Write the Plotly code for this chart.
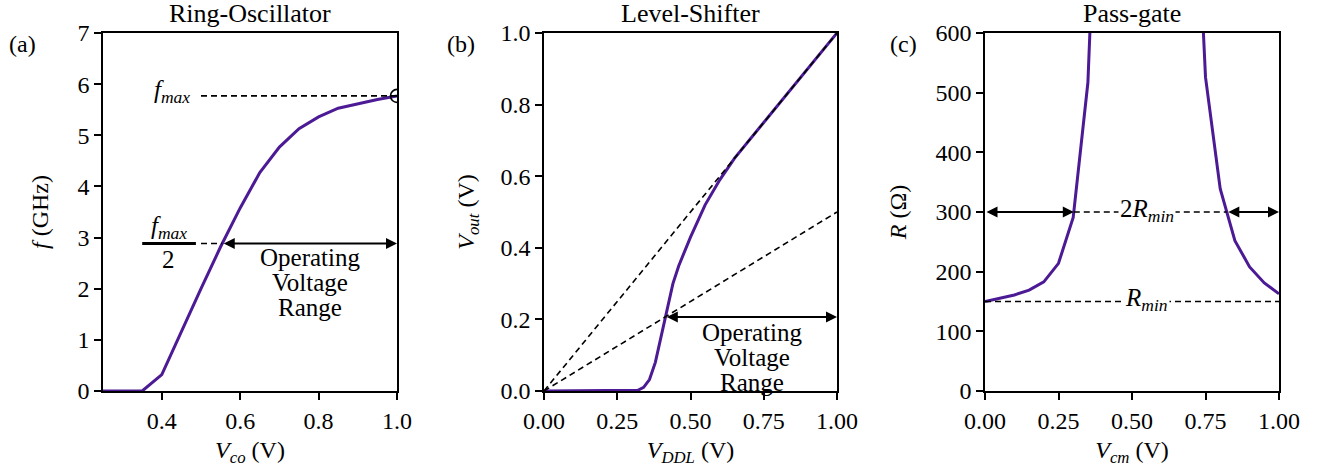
import numpy as np
import plotly.graph_objects as go

# (a) ring oscillator
v_co = [0.25, 0.30, 0.35, 0.40, 0.45, 0.50, 0.55, 0.60, 0.65, 0.70, 0.75, 0.80, 0.85, 0.90, 0.95, 1.00]
f_ghz = [0.0, 0.0, 0.0, 0.32, 1.17, 2.0, 2.82, 3.58, 4.27, 4.77, 5.13, 5.36, 5.53, 5.62, 5.70, 5.77]

# (b) level shifter
v_ddl = [0.0, 0.05, 0.10, 0.15, 0.20, 0.25, 0.30, 0.32, 0.34, 0.36, 0.38, 0.40, 0.42, 0.44, 0.46,
         0.48, 0.50, 0.55, 0.60, 0.65, 0.70, 0.75, 0.80, 0.85, 0.90, 0.95, 1.00]
v_out = [0.0, 0.0, 0.0, 0.0, 0.0, 0.0, 0.0, 0.002, 0.01, 0.032, 0.08, 0.155, 0.232, 0.30, 0.35,
         0.39, 0.43, 0.52, 0.59, 0.65, 0.70, 0.75, 0.80, 0.85, 0.90, 0.95, 1.00]

# (c) pass gate
v_cm = [0.0, 0.05, 0.10, 0.15, 0.20, 0.25, 0.30, 0.35, 0.40, 0.45, 0.50, 0.55, 0.60, 0.65, 0.70,
        0.75, 0.80, 0.85, 0.90, 0.95, 1.00]
r_ohm = [150, 155, 161, 169, 183, 214, 291, 517, 1350, 2500, 3000, 3000, 2500, 1900, 1050,
         526, 339, 252, 208, 181, 163]

PURPLE = "#4b1a94"
FONT = "Liberation Serif"
W, H = 1327, 471
FS = 24


def fx(p):
    return p / W


def fy(p):
    return 1 - p / H


fig = go.Figure()

# curves
fig.add_trace(go.Scatter(x=v_co, y=f_ghz, mode="lines", line=dict(color=PURPLE, width=3),
                         xaxis="x", yaxis="y", showlegend=False))
fig.add_trace(go.Scatter(x=v_ddl, y=v_out, mode="lines", line=dict(color=PURPLE, width=3),
                         xaxis="x2", yaxis="y2", showlegend=False))
fig.add_trace(go.Scatter(x=v_cm, y=r_ohm, mode="lines", line=dict(color=PURPLE, width=3),
                         xaxis="x3", yaxis="y3", showlegend=False))

dash = dict(color="black", width=1.6, dash="6px,4px")

# --- panel (a) guides
fmax = f_ghz[-1]
half = fmax / 2
x_half = float(np.interp(half, f_ghz[3:], v_co[3:]))
fig.add_trace(go.Scatter(x=[0.5, 1.0], y=[fmax, fmax], mode="lines", line=dash,
                         xaxis="x", yaxis="y", showlegend=False))
fig.add_trace(go.Scatter(x=[0.5, x_half], y=[half, half], mode="lines", line=dash,
                         xaxis="x", yaxis="y", showlegend=False))
fig.add_trace(go.Scatter(x=[v_co[-1]], y=[fmax], mode="markers",
                         marker=dict(symbol="circle-open", size=13, color="black", line=dict(width=1.6)),
                         xaxis="x", yaxis="y", showlegend=False))

# --- panel (b) guides
xs = np.linspace(0, 1, 1001)
vo = np.interp(xs, v_ddl, v_out)
i_cross = np.argmax((vo - xs / 2) > 0)
x_ls = float(xs[i_cross])
y_ls = x_ls / 2
fig.add_trace(go.Scatter(x=[0, 1], y=[0, 1], mode="lines", line=dash,
                         xaxis="x2", yaxis="y2", showlegend=False))
fig.add_trace(go.Scatter(x=[0, 1], y=[0, 0.5], mode="lines", line=dash,
                         xaxis="x2", yaxis="y2", showlegend=False))

# --- panel (c) guides
rmin = r_ohm[0]
x_l = float(np.interp(2 * rmin, r_ohm[:8], v_cm[:8]))
x_r = float(np.interp(2 * rmin, r_ohm[15:][::-1], v_cm[15:][::-1]))
fig.add_trace(go.Scatter(x=[x_l, x_r], y=[2 * rmin, 2 * rmin], mode="lines", line=dash,
                         xaxis="x3", yaxis="y3", showlegend=False))
fig.add_trace(go.Scatter(x=[0, 1], y=[rmin, rmin], mode="lines", line=dash,
                         xaxis="x3", yaxis="y3", showlegend=False))

font = dict(family=FONT, size=FS, color="black")
tfont = dict(family=FONT, size=FS + 1, color="black")
ann = []


def arrow(xr, yr, x0, x1, y):
    ann.append(dict(x=x1, y=y, ax=x0, ay=y, xref=xr, yref=yr, axref=xr, ayref=yr,
                    text="", showarrow=True, arrowhead=2, startarrowhead=2,
                    arrowside="end+start", arrowsize=1.1, arrowwidth=2, arrowcolor="black"))


arrow("x", "y", x_half, 1.0, half)
arrow("x2", "y2", x_ls, 1.0, y_ls)
arrow("x3", "y3", 0.0, x_l, 2 * rmin)
arrow("x3", "y3", x_r, 1.0, 2 * rmin)


def block(xr, yr, x, y, lines, first=-15, step=25):
    for i, t in enumerate(lines):
        ann.append(dict(x=x, y=y, xref=xr, yref=yr, xanchor="center", yanchor="middle",
                        yshift=first - i * step, text=t, showarrow=False, font=tfont))


block("x", "y", 0.778, half, ["Operating", "Voltage", "Range"], first=-14)
block("x2", "y2", 0.71, y_ls, ["Operating", "Voltage", "Range"], first=-16)

# text labels
ann += [
    dict(x=0.478, y=fmax, xref="x", yref="y", xanchor="right", yanchor="middle", yshift=4,
         text="<i>f</i><sub><i>max</i></sub>", showarrow=False, font=tfont),
    dict(x=0.418, y=half, xref="x", yref="y", xanchor="center", yanchor="bottom", yshift=-2,
         text="<i>f</i><sub><i>max</i></sub>", showarrow=False, font=tfont),
    dict(x=0.418, y=half, xref="x", yref="y", xanchor="center", yanchor="top", yshift=-1,
         text="2", showarrow=False, font=tfont),
    dict(x=0.55, y=2 * rmin, xref="x3", yref="y3", xanchor="center", yanchor="middle", yshift=2,
         text="2<i>R</i><sub><i>min</i></sub>", showarrow=False, bgcolor="white",
         font=tfont, borderpad=1),
    dict(x=0.55, y=rmin, xref="x3", yref="y3", xanchor="center", yanchor="middle", yshift=2,
         text="<i>R</i><sub><i>min</i></sub>", showarrow=False, bgcolor="white",
         font=tfont, borderpad=1),
]

# titles and panel letters
titles = [("Ring-Oscillator", 250), ("Level-Shifter", 690), ("Pass-gate", 1132)]
for t, cx in titles:
    ann.append(dict(x=fx(cx), y=fy(14), xref="paper", yref="paper", text=t, showarrow=False,
                    xanchor="center", yanchor="middle", font=dict(family=FONT, size=FS + 2)))
for t, cx in [("(a)", 22), ("(b)", 461), ("(c)", 903)]:
    ann.append(dict(x=fx(cx), y=fy(44), xref="paper", yref="paper", text=t, showarrow=False,
                    xanchor="center", yanchor="middle", font=font))

# fraction bar under f_max
shapes = [dict(type="line", xref="x", yref="y", x0=0.35, x1=0.487, y0=half, y1=half,
               line=dict(color="black", width=3))]

axis_common = dict(showline=True, linecolor="black", linewidth=1.6, mirror=True,
                   ticks="outside", ticklen=7, tickwidth=1.5, tickcolor="black",
                   showgrid=False, zeroline=False, tickfont=font, title_font=font,
                   automargin=False)
ydom = [fy(391), fy(33)]

fig.update_layout(
    width=W, height=H,
    margin=dict(l=0, r=0, t=0, b=0),
    plot_bgcolor="white", paper_bgcolor="white",
    font=font,
    annotations=ann,
    shapes=shapes,
    xaxis=dict(axis_common, domain=[fx(103), fx(397)], range=[0.25, 1.0], tickvals=[0.4, 0.6, 0.8, 1.0],
               tickformat=".1f", anchor="y",
               title=dict(text="<i>V</i><sub><i>co</i></sub> (V)", standoff=9)),
    yaxis=dict(axis_common, domain=ydom, range=[0, 7], dtick=1, anchor="x",
               title=dict(text="<i>f</i> (GHz)", standoff=22)),
    xaxis2=dict(axis_common, domain=[fx(544), fx(837)], range=[0, 1], dtick=0.25, tickformat=".2f",
                anchor="y2", title=dict(text="<i>V</i><sub><i>DDL</i></sub> (V)", standoff=9)),
    yaxis2=dict(axis_common, domain=ydom, range=[0, 1], dtick=0.2, tickformat=".1f", anchor="x2",
                title=dict(text="<i>V</i><sub><i>out</i></sub> (V)", standoff=19)),
    xaxis3=dict(axis_common, domain=[fx(985), fx(1279)], range=[0, 1], dtick=0.25, tickformat=".2f",
                anchor="y3", title=dict(text="<i>V</i><sub><i>cm</i></sub> (V)", standoff=9)),
    yaxis3=dict(axis_common, domain=ydom, range=[0, 600], dtick=100, anchor="x3",
                title=dict(text="<i>R</i> (Ω)", standoff=22)),
)

# drop the default page margin so the figure sits at the window's corner
fig.write_html("out.html", config={"displayModeBar": False},
               post_script="document.body.style.margin='0px';")
